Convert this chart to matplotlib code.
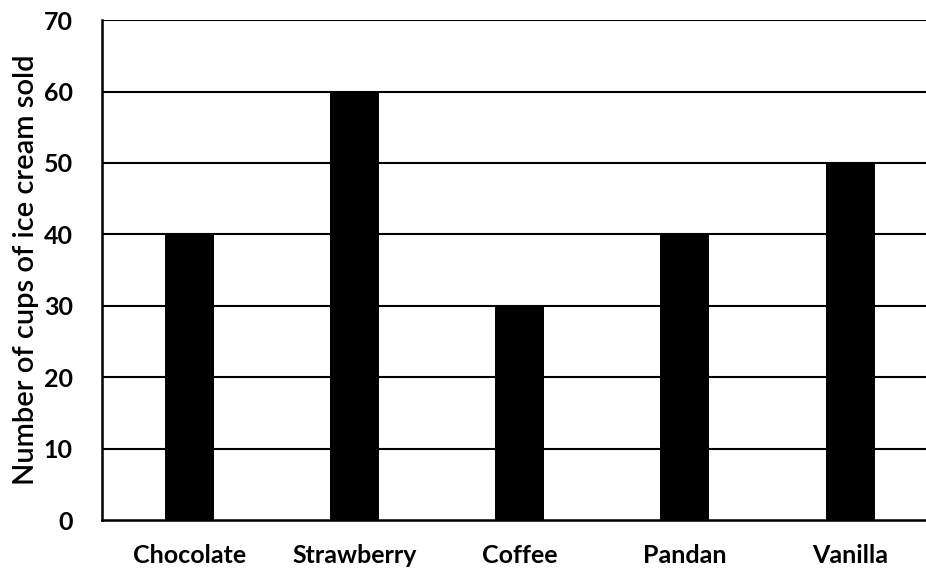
import matplotlib
matplotlib.use('Agg')
import matplotlib.pyplot as plt

flavours = ['Chocolate', 'Strawberry', 'Coffee', 'Pandan', 'Vanilla']
cups_sold = [40, 60, 30, 40, 50]
y_ticks = [0, 10, 20, 30, 40, 50, 60, 70]

fig = plt.figure(figsize=(9.26, 5.74), dpi=100)
ax = fig.add_axes([0.110, 0.094, 0.890, 0.871])

x = list(range(len(flavours)))
ax.bar(x, cups_sold, width=0.297, color='black', zorder=3)

ax.set_xlim(-0.53, 4.46)
ax.set_ylim(0, 70)
ax.set_yticks(y_ticks)
ax.set_yticklabels([str(t) for t in y_ticks], fontsize=18, fontweight='bold', family='Lato')
ax.set_xticks(x)
ax.set_xticklabels(flavours, fontsize=18, fontweight='bold', family='Lato')
ax.tick_params(axis='y', length=0, pad=21)
ax.tick_params(axis='x', length=0, pad=17)

# horizontal gridlines, drawn in black as in the original
for t in y_ticks[1:]:
    ax.axhline(t, color='black', linewidth=1.5, zorder=1)

ax.spines['top'].set_visible(False)
ax.spines['right'].set_visible(False)
ax.spines['left'].set_linewidth(1.8)
ax.spines['bottom'].set_linewidth(1.8)

ax.set_ylabel('Number of cups of ice cream sold', fontsize=21, family='Lato',
              fontweight='semibold', labelpad=3)

plt.savefig('out.png', dpi=100)
